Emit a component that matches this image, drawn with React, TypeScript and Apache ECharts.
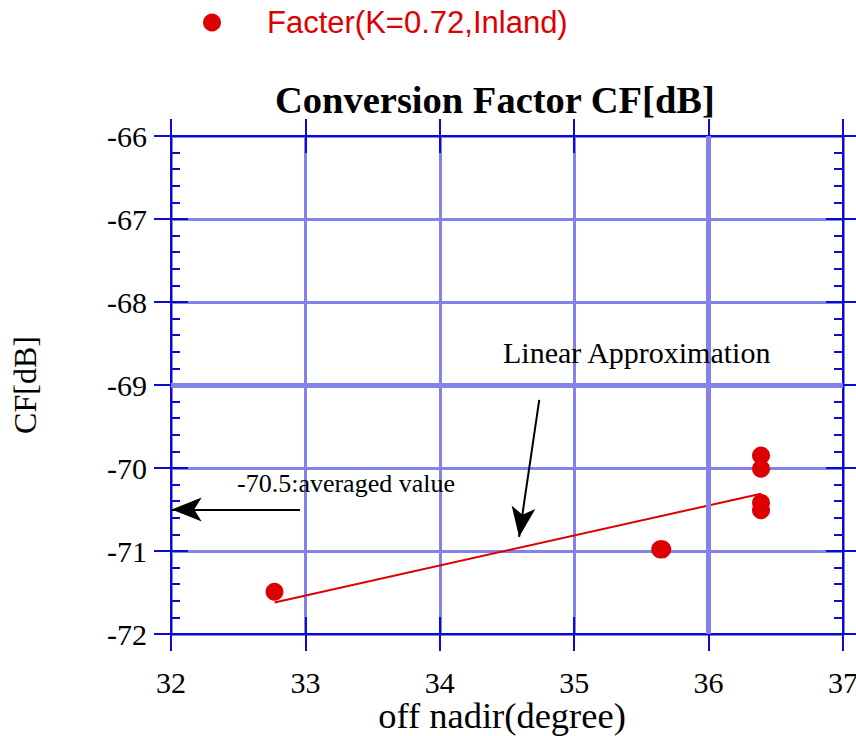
import React, { useEffect, useRef } from "react";
import * as echarts from "echarts";

// ---- data ----
const xRange = [32, 37];
const yRange = [-72, -66];
const seriesName = "Facter(K=0.72,Inland)";
const pointX = [32.77, 35.64, 35.655, 36.39, 36.39, 36.39, 36.39];
const pointY = [-71.49, -70.98, -70.98, -69.85, -70.01, -70.42, -70.51];
const fitX = [32.77, 36.39];
const fitY = [-71.62, -70.31];
const avgArrowX = [32.96, 32.005];
const avgArrowY = [-70.5, -70.5];
const fitArrowX = [34.74, 34.59];
const fitArrowY = [-69.18, -70.83];
const boldGridX = [36];
const boldGridY = [-69];

const BLUE = "#0a0ad2";
const GRID = "#8282e8";
const RED = "#dd0000";
const SERIF = "'Liberation Serif', 'Times New Roman', serif";
const SANS = "'Liberation Sans', Arial, sans-serif";

export default function App() {
  const ref = useRef<HTMLDivElement>(null);
  useEffect(() => {
    if (!ref.current) return;
    const chart = echarts.init(ref.current, null, { renderer: "svg" });

    const baseX = { type: "value", min: xRange[0], max: xRange[1], interval: 1, gridIndex: 0 };
    const baseY = { type: "value", min: yRange[0], max: yRange[1], interval: 1, gridIndex: 0 };
    const line = { show: true, onZero: false, lineStyle: { color: BLUE, width: 2 } };
    const tickOut = { show: true, inside: false, length: 17, lineStyle: { color: BLUE, width: 2 } };
    const tickIn = { show: true, inside: true, length: 17, lineStyle: { color: BLUE, width: 2 } };
    const none = { show: false };

    const xAxes: any[] = [
      {
        ...baseX, position: "bottom", z: 0,
        axisLine: none, axisTick: none,
        axisLabel: { margin: 34, fontSize: 30, lineHeight: 28, color: "#000", fontFamily: SERIF },
        splitLine: { show: true, lineStyle: { color: GRID, width: 3 } },
        name: "off nadir(degree)", nameLocation: "middle", nameGap: 65, nameMoveOverlap: false,
        nameTextStyle: { fontSize: 36.5, lineHeight: 32, color: "#000", fontFamily: SERIF, padding: [0, 10, 0, 0] },
      },
      { ...baseX, position: "bottom", z: 1, axisLine: line, axisTick: tickOut, axisLabel: none, splitLine: none },
      { ...baseX, position: "bottom", z: 1, axisLine: none, axisTick: tickIn, axisLabel: none, splitLine: none },
      { ...baseX, position: "top", z: 1, axisLine: line, axisTick: tickOut, axisLabel: none, splitLine: none },
      { ...baseX, position: "top", z: 1, axisLine: none, axisTick: tickIn, axisLabel: none, splitLine: none },
    ];
    const minor = { show: true, splitNumber: 5, length: 9, lineStyle: { color: BLUE, width: 2 } };
    const yAxes: any[] = [
      {
        ...baseY, position: "left", z: 0,
        axisLine: none, axisTick: none,
        axisLabel: { margin: 24, fontSize: 30, color: "#000", fontFamily: SERIF },
        splitLine: { show: true, lineStyle: { color: GRID, width: 3 } },
        name: "CF[dB]", nameLocation: "middle", nameGap: 130, nameMoveOverlap: false,
        nameTextStyle: { fontSize: 32, color: "#000", fontFamily: SERIF },
      },
      { ...baseY, position: "left", z: 1, axisLine: line, axisTick: tickOut, axisLabel: none, splitLine: none },
      { ...baseY, position: "left", z: 1, axisLine: none, axisTick: tickIn, minorTick: minor, axisLabel: none, splitLine: none },
      { ...baseY, position: "right", z: 1, axisLine: line, axisTick: tickOut, axisLabel: none, splitLine: none },
      { ...baseY, position: "right", z: 1, axisLine: none, axisTick: tickIn, minorTick: minor, axisLabel: none, splitLine: none },
    ];

    const option: any = {
      animation: false,
      backgroundColor: "#fff",
      title: {
        text: "Conversion Factor CF[dB]",
        left: 275,
        top: 80,
        padding: 0,
        textStyle: { fontSize: 38.5, fontWeight: "bold", color: "#000", fontFamily: SERIF },
      },
      legend: {
        data: [seriesName],
        left: 198,
        top: 2,
        icon: "circle",
        itemWidth: 18,
        itemHeight: 18,
        itemStyle: { color: RED, opacity: 1 },
        textStyle: { fontSize: 31, color: RED, fontFamily: SANS, padding: [0, 0, 0, 41] },
      },
      grid: { left: 171, right: 13, top: 136, bottom: 102, containLabel: false, outerBoundsMode: "none" },
      xAxis: xAxes,
      yAxis: yAxes,
      graphic: [
        {
          type: "text", left: 503, top: 337, z: 10,
          style: { text: "Linear Approximation", fontSize: 30, fontFamily: SERIF, fill: "#000" },
        },
        {
          type: "text", left: 237, top: 470, z: 10,
          style: { text: "-70.5:averaged value", fontSize: 26, fontFamily: SERIF, fill: "#000" },
        },
      ],
      series: [
        {
          name: "gridEmphasis",
          type: "line",
          z: 0.5,
          silent: true,
          data: [[boldGridX[0], boldGridY[0]]],
          symbol: "none",
          lineStyle: { opacity: 0 },
          markLine: {
            silent: true,
            symbol: ["none", "none"],
            label: { show: false },
            lineStyle: { color: GRID, width: 5, type: "solid" },
            data: [{ xAxis: boldGridX[0] }, { yAxis: boldGridY[0] }],
          },
        },
        {
          name: "fit",
          type: "line",
          z: 3,
          data: fitX.map((x, i) => [x, fitY[i]]),
          symbol: "none",
          lineStyle: { color: RED, width: 2 },
          markLine: {
            silent: true,
            symbol: ["none", "arrow"],
            symbolSize: [18, 30],
            label: { show: false },
            lineStyle: { color: "#000", width: 2, type: "solid" },
            itemStyle: { color: "#000" },
            data: [
              [{ coord: [avgArrowX[0], avgArrowY[0]] }, { coord: [avgArrowX[1], avgArrowY[1]] }],
              [{ coord: [fitArrowX[0], fitArrowY[0]] }, { coord: [fitArrowX[1], fitArrowY[1]] }],
            ],
          },
        },
        {
          name: seriesName,
          type: "scatter",
          z: 4,
          symbol: "circle",
          symbolSize: 18,
          itemStyle: { color: RED, opacity: 1 },
          data: pointX.map((x, i) => [x, pointY[i]]),
        },
      ],
    };
    chart.setOption(option);
    return () => chart.dispose();
  }, []);
  return <div ref={ref} style={{ width: 856, height: 736, position: "absolute", left: 0, top: 0 }} />;
}
